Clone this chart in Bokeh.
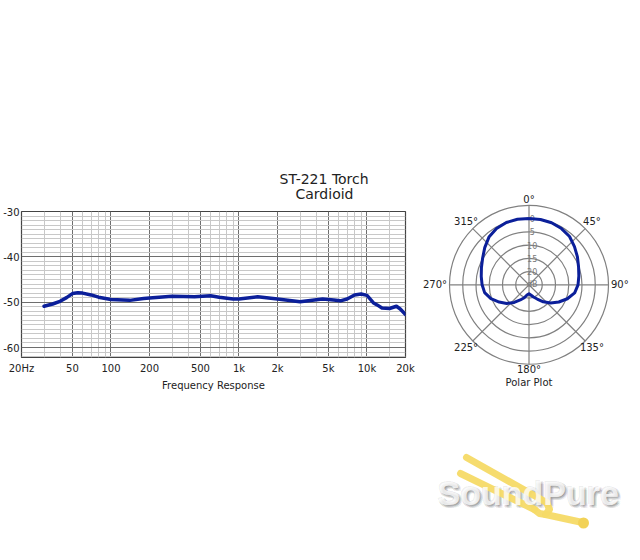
import numpy as np
from bokeh.plotting import figure
from bokeh.models import FixedTicker, Range1d, Title, Spacer
from bokeh.layouts import row, column
from bokeh.core.properties import value
from bokeh.embed import file_html
from bokeh.resources import INLINE

# ---------------- data ----------------
title_lines = ["ST-221 Torch", "Cardioid"]

freq_hz = [30, 35, 40, 45, 50, 55, 60, 70, 80, 100, 140, 180, 200, 300, 450, 600,
           700, 900, 1000, 1400, 2000, 3000, 4500, 5500, 6200, 7000, 8000, 9000,
           10000, 11200, 12000, 13100, 15000, 17000, 18200, 20000]
response_db = [-50.9, -50.4, -49.8, -49.0, -48.1, -47.9, -48.0, -48.4, -48.9, -49.4,
               -49.6, -49.2, -49.1, -48.7, -48.8, -48.6, -48.9, -49.3, -49.3, -48.8,
               -49.3, -49.9, -49.3, -49.5, -49.7, -49.3, -48.4, -48.2, -48.5, -50.1,
               -50.6, -51.3, -51.4, -50.9, -51.5, -52.7]

x_major_ticks = [20, 50, 100, 200, 500, 1000, 2000, 5000, 10000, 20000]
x_tick_labels = ["20Hz", "50", "100", "200", "500", "1k", "2k", "5k", "10k", "20k"]
x_minor_ticks = [30, 40, 60, 70, 80, 90, 300, 400, 600, 700, 800, 900,
                 3000, 4000, 6000, 7000, 8000, 9000, 15000]
y_major_ticks = [-60, -50, -40, -30]
y_tick_labels = ["-60", "-50", "-40", "-30"]
x_axis_title = "Frequency Response"

polar_angle_deg = [0, 10, 20, 30, 40, 50, 60, 70, 80, 90, 100, 110, 120, 130, 140, 150,
                   160, 170, 180, 190, 200, 210, 220, 230, 240, 250, 260, 270, 280, 290,
                   300, 310, 320, 330, 340, 350]
polar_db = [0.0, 0.0, -0.1, -0.5, -1.2, -2.6, -3.9, -5.1, -5.9, -6.5, -7.5, -9.6, -12.0,
            -14.3, -16.6, -18.8, -20.1, -21.1, -21.6, -21.2, -19.8, -18.4, -16.3, -14.0,
            -12.0, -9.7, -8.0, -7.3, -6.7, -5.9, -4.8, -3.2, -1.5, -0.5, 0.0, 0.1]
ring_db = [-25, -20, -15, -10, -5, 0, 5]
ring_labels = ["dB", "20", "15", "10", "5", "0"]
angle_label_deg = [0, 45, 90, 135, 180, 225, 270, 315]
angle_labels = ["0°", "45°", "90°", "135°", "180°", "225°", "270°", "315°"]
polar_title = "Polar Plot"
logo_text = "SoundPure"

FONT = "DejaVu Sans"
TXT = "#222222"
BLUE = "#0b1f9a"

# ---------------- frequency response ----------------
W1 = 415
p1 = figure(width=W1, height=560, x_axis_type="log", title=None,
            x_range=Range1d(20, 20000), y_range=Range1d(-62.2, -30),
            output_backend="svg", toolbar_location=None,
            min_border_left=21, min_border_right=W1 - 405,
            min_border_top=211, min_border_bottom=203)
p1.background_fill_color = "white"
p1.border_fill_color = "white"
p1.outline_line_color = "#444444"
p1.outline_line_width = 1.2

xt = FixedTicker(ticks=x_major_ticks, minor_ticks=x_minor_ticks)
yt = FixedTicker(ticks=y_major_ticks,
                 minor_ticks=[v for v in range(-62, -29) if v not in y_major_ticks])
p1.xaxis.ticker = xt
p1.yaxis.ticker = yt
p1.xaxis.major_label_overrides = {t: l for t, l in zip(x_major_ticks, x_tick_labels)}
p1.yaxis.major_label_overrides = {t: l for t, l in zip(y_major_ticks, y_tick_labels)}
for ax in (p1.xaxis[0], p1.yaxis[0]):
    ax.axis_line_color = None
    ax.major_tick_line_color = None
    ax.minor_tick_line_color = None
    ax.major_tick_out = 0
    ax.major_tick_in = 0
    ax.minor_tick_out = 0
    ax.minor_tick_in = 0
    ax.major_label_text_font = FONT
    ax.major_label_text_font_size = "10px"
    ax.major_label_text_color = TXT
p1.yaxis.major_label_standoff = 2
p1.xaxis.major_label_standoff = 5
p1.xaxis.axis_label = x_axis_title
p1.xaxis.axis_label_text_font = FONT
p1.xaxis.axis_label_text_font_size = "10px"
p1.xaxis.axis_label_text_font_style = "normal"
p1.xaxis.axis_label_text_color = TXT
p1.xaxis.axis_label_standoff = 3

p1.xgrid.ticker = xt
p1.ygrid.ticker = yt
for g in (p1.xgrid[0], p1.ygrid[0]):
    g.grid_line_color = "#6e6e6e"
    g.grid_line_width = 1
    g.minor_grid_line_color = "#c8c8c8"
    g.minor_grid_line_width = 1

p1.line(freq_hz, response_db, line_width=3.5, line_color=BLUE,
        line_join="round", line_cap="round")

# two stacked titles (closest to the frame first), shifted to sit over x~324
TITLE_PX = 14
title_w = [6.65 * TITLE_PX, 4.16 * TITLE_PX]
title_shift = [2, 0]
title_standoff = [-26, 20]
title_lh = [1.0, 0.7]
for i in (1, 0):
    t = Title(text=title_lines[i], align="left",
              offset=int(round(303 - title_w[i] / 2 + title_shift[i])),
              text_font=FONT, text_font_size=f"{TITLE_PX}px", text_font_style="normal",
              text_color=TXT, standoff=title_standoff[i], text_line_height=title_lh[i])
    p1.add_layout(t, "above")

# ---------------- polar plot ----------------
CX, CY = 528.5, 284.3          # page pixel position of the polar centre
S = 30 / 79.5                  # data units per pixel
LEFT, TOP, H2 = W1, 1, 558
W2 = 640 - LEFT

def pg(xp, yp):
    return ((xp - CX) * S, (CY - yp) * S)

p2 = figure(width=W2, height=H2, title=None,
            x_range=Range1d((LEFT - CX) * S, (640 - CX) * S),
            y_range=Range1d((CY - TOP - H2) * S, (CY - TOP) * S),
            output_backend="svg", toolbar_location=None,
            x_axis_location=None, y_axis_location=None,
            min_border=0)
p2.grid.visible = False
p2.outline_line_color = None
p2.background_fill_color = "white"
p2.border_fill_color = "white"

ring_r = [25 + d for d in ring_db][1:]
p2.circle(x=[0] * len(ring_r), y=[0] * len(ring_r), radius=ring_r,
          fill_color=None, line_color="#808080", line_width=1.2)
R_OUT = 25 + ring_db[-1]
sp = np.radians([0, 45, 90, 135])
p2.segment(x0=list(-R_OUT * np.sin(sp)), y0=list(-R_OUT * np.cos(sp)),
           x1=list(R_OUT * np.sin(sp)), y1=list(R_OUT * np.cos(sp)),
           line_color="#808080", line_width=1.2)

p2.text(x=[1.2] * len(ring_labels), y=[25 + d for d in ring_db[:-1]], text=ring_labels,
        text_align="center", text_baseline="middle", text_font=value(FONT),
        text_font_size="8px", text_color="#7a7a7a")

th = np.radians(polar_angle_deg + [polar_angle_deg[0]])
rr = 25 + np.array(polar_db + [polar_db[0]])
p2.line(x=list(rr * np.sin(th)), y=list(rr * np.cos(th)), line_width=3,
        line_color=BLUE, line_join="round")

lx, ly, la = [], [], []
for a in angle_label_deg:
    t = np.radians(a)
    if a in (90, 270):
        rpx = 82
        la.append("left" if a == 90 else "right")
    elif a in (0, 180):
        rpx = 85
        la.append("center")
    else:
        rpx = 89
        la.append("center")
    lx.append(rpx * S * np.sin(t))
    ly.append(rpx * S * np.cos(t))
p2.text(x=lx, y=ly, text=angle_labels, text_align=la, text_baseline="middle",
        text_font=value(FONT), text_font_size="10px", text_color=TXT)

px, py = pg(CX, 381.7)
p2.text(x=[px], y=[py], text=[polar_title], text_align="center", text_baseline="middle",
        text_font=value(FONT), text_font_size="10px", text_color=TXT)

# ---------------- watermark ----------------
LOGO_FONT = "Liberation Sans"
LOGO_SIZE = "34px"
bx, by = 437, 492.5
for ox, oy in [(-1, -1), (1, 1), (2, 2), (0, 2), (2, 0), (1, 3), (3, 1), (3, 3)]:
    sx, sy = pg(bx + ox, by + oy)
    p2.text(x=[sx], y=[sy], text=[logo_text], text_align="left", text_baseline="middle",
            text_font=value(LOGO_FONT), text_font_size=LOGO_SIZE, text_font_style="bold",
            text_color="#000000", text_alpha=0.07)

fork_paths = [
    [(466, 457), (546, 502)],
    [(460, 473), (534, 509)],
    [(546, 502), (549, 509), (545, 514), (539, 513), (534, 509)],
    [(545, 514), (582, 522)],
]
fxs, fys = [], []
for path in fork_paths:
    pts = [pg(a, b) for a, b in path]
    fxs.append([q[0] for q in pts])
    fys.append([q[1] for q in pts])
p2.multi_line(xs=fxs, ys=fys, line_color="#f6da66", line_width=7,
              line_cap="round", line_join="round", line_alpha=0.95)
ex, ey = pg(583, 522.5)
p2.scatter(x=[ex], y=[ey], size=11, fill_color="#f2d257", line_color=None)

tx, ty = pg(bx, by)
p2.text(x=[tx], y=[ty], text=[logo_text], text_align="left", text_baseline="middle",
        text_font=value(LOGO_FONT), text_font_size=LOGO_SIZE, text_font_style="bold",
        text_color="#ffffff", text_alpha=0.8)

layout = row(p1, column(Spacer(height=TOP, width=W2), p2))
open("out.html", "w").write(file_html(layout, INLINE))
